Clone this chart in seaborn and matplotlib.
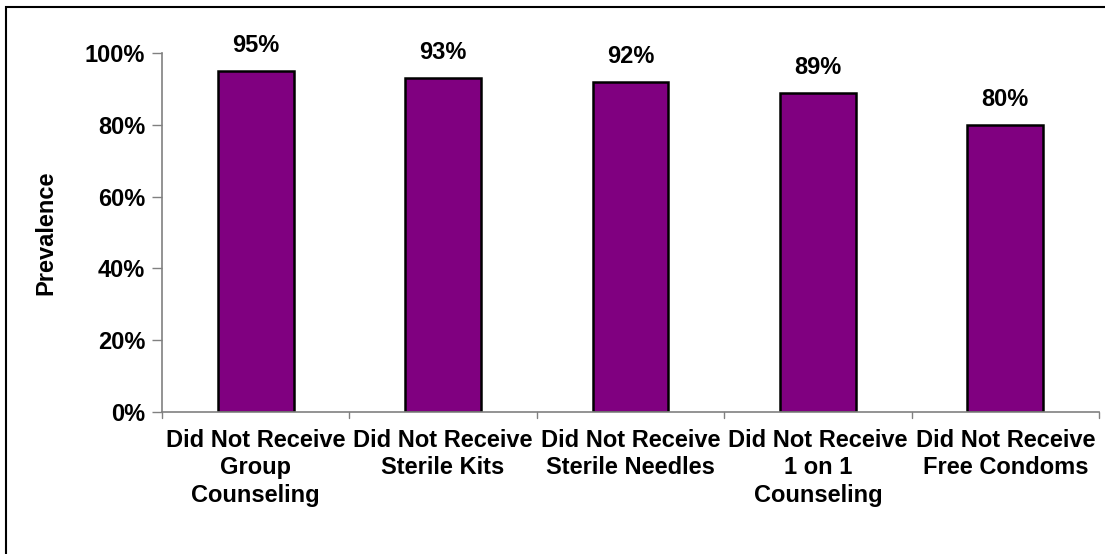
import seaborn as sns
import matplotlib.pyplot as plt
import pandas as pd
from matplotlib.patches import Rectangle

categories = ["Did Not Receive\nGroup\nCounseling",
              "Did Not Receive\nSterile Kits",
              "Did Not Receive\nSterile Needles",
              "Did Not Receive\n1 on 1\nCounseling",
              "Did Not Receive\nFree Condoms"]
prevalence = [95, 93, 92, 89, 80]
yticks = [0, 20, 40, 60, 80, 100]

df = pd.DataFrame({"Category": categories, "Prevalence": prevalence})

sns.set_style("white")
plt.rcParams['font.family'] = ['Liberation Sans', 'DejaVu Sans']
plt.rcParams['font.weight'] = 'bold'
plt.rcParams['text.color'] = 'black'
plt.rcParams['axes.labelcolor'] = 'black'
plt.rcParams['xtick.color'] = 'black'
plt.rcParams['ytick.color'] = 'black'

fs = 17

fig = plt.figure(figsize=(11.05, 5.54), dpi=100)
ax = fig.add_axes([0.1466, 0.2563, 0.848, 0.648])

sns.barplot(data=df, x="Category", y="Prevalence", color="#800080",
            saturation=1, width=0.405, edgecolor="black", linewidth=1.8, ax=ax)

ax.set_ylim(0, 100)
ax.set_xlim(-0.5, len(categories) - 0.5)
ax.set_yticks(yticks)
ax.set_yticklabels([f"{v}%" for v in yticks], fontsize=fs, fontweight='bold')
ax.set_xticks(range(len(categories)))
ax.set_xticklabels(categories, fontsize=fs, fontweight='bold', linespacing=1.25)
ax.tick_params(axis='x', length=0, pad=12, labelcolor='black')
ax.tick_params(axis='y', direction='out', length=7, width=1, color='#808080',
               left=True, pad=5, labelcolor='black')
# category separators on x axis
for b in [i + 0.5 for i in range(-1, len(categories))]:
    ax.plot([b, b], [0, -1.8], color='#808080', lw=1, clip_on=False)

for s in ['top', 'right']:
    ax.spines[s].set_visible(False)
for s in ['left', 'bottom']:
    ax.spines[s].set_color('#808080')
    ax.spines[s].set_linewidth(1.2)

for i, v in enumerate(prevalence):
    ax.annotate(f"{v}%", (i, v), xytext=(0, 10), textcoords='offset points',
                ha='center', va='bottom', fontsize=fs, fontweight='bold',
                color='black')

ax.set_xlabel("")
ax.set_ylabel("Prevalence", fontsize=fs, fontweight='bold', labelpad=20,
              color='black')

fig.patches.append(Rectangle((6 / 1105, -0.1), 1.2, 1 - 7 / 554 + 0.1,
                             transform=fig.transFigure, fill=False,
                             edgecolor='black', linewidth=1.5))

fig.savefig("out.png", dpi=100)
